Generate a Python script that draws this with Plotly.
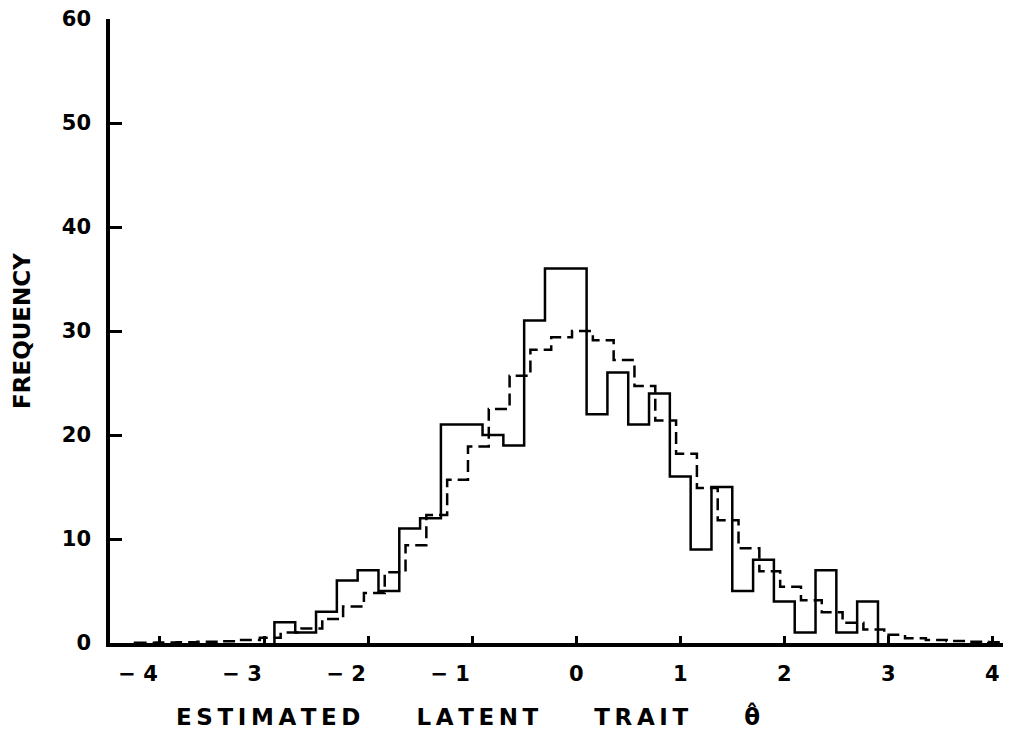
import numpy as np
import plotly.graph_objects as go

# ---- data ----
bin_width = 0.2
observed_start = -2.9
observed_counts = [2, 1, 3, 6, 7, 5, 11, 12, 21, 21, 20, 19, 31, 36, 36, 22, 26,
                   21, 24, 16, 9, 15, 5, 8, 4, 1, 7, 1, 4]
expected_start = -4.24
expected_counts = [0.03, 0.05, 0.08, 0.12, 0.18, 0.3, 0.5, 1.0, 1.4, 2.3, 3.5, 4.8,
                   6.8, 9.4, 12.3, 15.7, 18.9, 22.5, 25.7, 28.2, 29.4, 30.0, 29.1,
                   27.2, 24.7, 21.4, 18.2, 14.9, 11.8, 9.1, 6.9, 5.4, 4.1, 2.95,
                   1.95, 1.3, 0.8, 0.45, 0.3, 0.2, 0.12, 0.08]
x_tick_values = [-4, -3, -2, -1, 0, 1, 2, 3, 4]
x_tick_labels = ["−\u00a04", "−\u00a03", "−\u00a02", "−\u00a01", "0", "1", "2", "3", "4"]
y_tick_values = [0, 10, 20, 30, 40, 50, 60]
x_title_words = ["ESTIMATED", "LATENT", "TRAIT", "θ\u0302"]
y_title = "FREQUENCY"


def step_path(start, counts):
    edges = start + bin_width * np.arange(len(counts) + 1)
    xs = np.concatenate([[edges[0]], edges])
    ys = np.concatenate([[0], counts, [0]])
    return xs, ys


def spaced(word):
    # the reference uses a wide, letter-spaced face
    return "\u2009".join(word) if len(word) > 2 else word


FONT = "DejaVu Sans"

fig = go.Figure()
ex, ey = step_path(expected_start, expected_counts)
fig.add_trace(go.Scatter(x=ex, y=ey, mode="lines", line_shape="hv",
                         line=dict(color="black", width=2.5, dash="12px,6px"),
                         showlegend=False, hoverinfo="skip"))
ox, oy = step_path(observed_start, observed_counts)
fig.add_trace(go.Scatter(x=ox, y=oy, mode="lines", line_shape="hv",
                         line=dict(color="black", width=2.5),
                         showlegend=False, hoverinfo="skip"))

# padded negative labels so the digit sits left of the tick like the reference
neg_pad = "\u00a0" * 6
ticktext = [t + neg_pad if t.startswith("−") else t for t in x_tick_labels]

x_title = ("\u00a0" * 7).join(spaced(w) for w in x_title_words)

fig.update_layout(
    template="none",
    width=1003, height=722,
    margin=dict(l=102, r=4, t=11, b=87, autoexpand=False),
    paper_bgcolor="white", plot_bgcolor="white",
    xaxis=dict(range=[-4.48, 4.14], showgrid=False, zeroline=False, automargin=False,
               showline=True, linecolor="black", linewidth=3.5,
               ticks="inside", ticklen=7, tickwidth=2.5, tickcolor="black",
               tickvals=x_tick_values, ticktext=ticktext, ticklabeloverflow="allow",
               tickfont=dict(family=FONT, size=21, color="black", weight="bold"),
               ticklabelstandoff=9),
    yaxis=dict(range=[0, 60], showgrid=False, zeroline=False, automargin=False,
               showline=True, linecolor="black", linewidth=3.5,
               ticks="inside", ticklen=12, tickwidth=3, tickcolor="black",
               tickvals=y_tick_values, ticklabeloverflow="allow",
               tickfont=dict(family=FONT, size=21, color="black", weight="bold"),
               ticklabelstandoff=11),
    annotations=[
        dict(text=x_title, xref="paper", yref="paper", x=(166 - 102) / 897, y=0,
             yshift=-73, xanchor="left", yanchor="middle", showarrow=False,
             font=dict(family=FONT, size=23, color="black", weight="bold")),
        dict(text=y_title, xref="paper", yref="paper", x=0, y=0.5,
             xshift=-88, xanchor="center", yanchor="middle", showarrow=False,
             textangle=-90,
             font=dict(family=FONT, size=23, color="black", weight="bold")),
    ],
)

fig.write_html("out.html")
